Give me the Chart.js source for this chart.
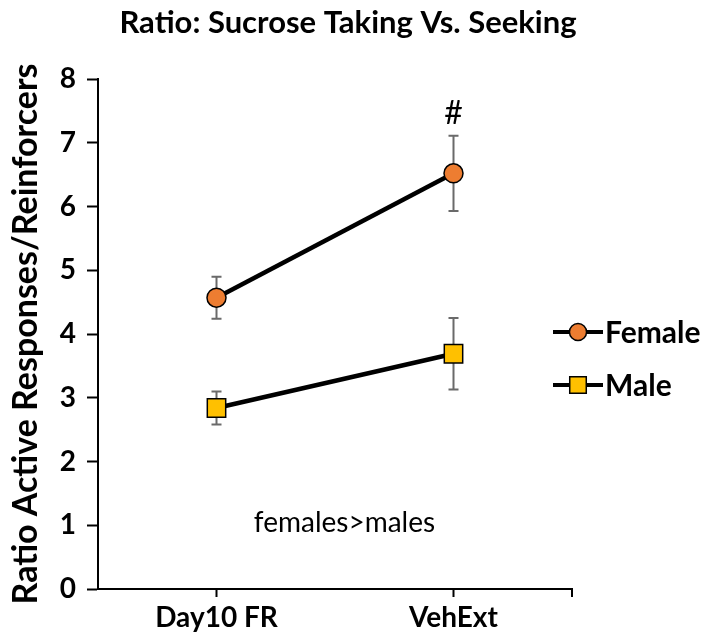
<!DOCTYPE html>
<html>
<head>
<meta charset="utf-8">
<script src="https://cdn.jsdelivr.net/npm/chart.js@4.4.1/dist/chart.umd.min.js"></script>
<style>
  html, body { margin: 0; padding: 0; background: #fff; }
</style>
</head>
<body>
<canvas id="myChart" width="712" height="640"></canvas>
<script>
// Values
const categories = ['Day10 FR', 'VehExt'];
const femaleMean = [4.57, 6.52];
const femaleErr = [0.33, 0.59];
const maleMean = [2.84, 3.69];
const maleErr = [0.26, 0.56];
const yTicks = [0, 1, 2, 3, 4, 5, 6, 7, 8];

const FONT = 'Lato, "Open Sans", sans-serif';
const TITLE = 'Ratio: Sucrose Taking Vs. Seeking';

// Error bars (drawn under the lines and markers)
const errorBars = {
    id: 'errorBars',
    beforeDatasetsDraw(chart) {
        const { ctx, scales: { x, y } } = chart;
        ctx.save();
        ctx.strokeStyle = '#6a6a6a';
        ctx.lineWidth = 2;
        chart.data.datasets.forEach(ds => {
            ds.data.forEach((v, i) => {
                const px = x.getPixelForValue(i);
                const hi = y.getPixelForValue(v + ds.errors[i]);
                const lo = y.getPixelForValue(v - ds.errors[i]);
                ctx.beginPath();
                ctx.moveTo(px, hi); ctx.lineTo(px, lo);
                ctx.moveTo(px - 5, hi); ctx.lineTo(px + 5, hi);
                ctx.moveTo(px - 5, lo); ctx.lineTo(px + 5, lo);
                ctx.stroke();
            });
        });
        ctx.restore();
    }
};

// Text notes placed in data units
const notes = [
    { text: '#', x: 1, y: 7.45, size: 32 },
    { text: 'females>males', x: 0.54, y: 1.04, size: 28 },
];

const extras = {
    id: 'extras',
    afterDraw(chart) {
        const { ctx, chartArea, scales: { x, y } } = chart;
        ctx.save();
        // title, centred like the original figure
        ctx.fillStyle = '#000';
        ctx.textAlign = 'center';
        ctx.textBaseline = 'alphabetic';
        ctx.font = `bold 31px ${FONT}`;
        ctx.fillText(TITLE, 348, 33);

        // closing tick at the right end of the x axis
        ctx.strokeStyle = '#000';
        ctx.lineWidth = 2;
        ctx.beginPath();
        ctx.moveTo(chartArea.right, chartArea.bottom);
        ctx.lineTo(chartArea.right, chartArea.bottom + 8);
        ctx.stroke();

        ctx.textBaseline = 'middle';
        notes.forEach(n => {
            ctx.font = `${n.size}px ${FONT}`;
            ctx.fillText(n.text, x.getPixelForValue(n.x), y.getPixelForValue(n.y));
        });

        // legend on the right
        const lx = 553, ly = 332, gap = 53;
        chart.data.datasets.forEach((ds, i) => {
            const cy = ly + i * gap;
            ctx.strokeStyle = '#000';
            ctx.lineWidth = 4;
            ctx.beginPath();
            ctx.moveTo(lx, cy); ctx.lineTo(lx + 50, cy);
            ctx.stroke();
            ctx.fillStyle = ds.pointBackgroundColor;
            ctx.lineWidth = 1.5;
            Chart.helpers.drawPoint(ctx, {
                pointStyle: ds.pointStyle,
                radius: ds.pointRadius * 0.9,
                rotation: 0,
                borderWidth: 1.5
            }, lx + 25, cy);
            ctx.fillStyle = '#000';
            ctx.textAlign = 'left';
            ctx.font = `bold 30px ${FONT}`;
            ctx.fillText(ds.label, lx + 52, cy + 1);
        });
        ctx.restore();
    }
};

const data = {
    labels: categories,
    datasets: [{
        label: 'Female',
        data: femaleMean,
        errors: femaleErr,
        borderColor: '#000',
        borderWidth: 4.5,
        pointStyle: 'circle',
        pointRadius: 9.5,
        pointBackgroundColor: '#ED7D31',
        pointBorderColor: '#000',
        pointBorderWidth: 1.5,
    }, {
        label: 'Male',
        data: maleMean,
        errors: maleErr,
        borderColor: '#000',
        borderWidth: 4.5,
        pointStyle: 'rect',
        pointRadius: 13,
        pointBackgroundColor: '#FFC000',
        pointBorderColor: '#000',
        pointBorderWidth: 1.5,
    }],
};

const config = {
    type: 'line',
    data: data,
    options: {
        responsive: false,
        animation: false,
        layout: { padding: { top: 79, left: 0, right: 140, bottom: 0 } },
        plugins: {
            legend: { display: false },
            tooltip: { enabled: false },
            title: { display: false },
        },
        scales: {
            x: {
                offset: true,
                afterFit: (scale) => { scale.height = 51; },
                grid: {
                    offset: false,
                    drawOnChartArea: false,
                    tickLength: 8,
                    tickWidth: 2,
                    tickColor: '#000',
                },
                border: { color: '#000', width: 2 },
                ticks: {
                    color: '#000',
                    padding: 4,
                    font: { family: FONT, size: 28, weight: 'bold' },
                },
            },
            y: {
                min: 0,
                max: 8,
                afterFit: (scale) => { scale.width = 98; },
                afterBuildTicks: (scale) => { scale.ticks = yTicks.map(v => ({ value: v })); },
                grid: {
                    drawOnChartArea: false,
                    tickLength: 11,
                    tickWidth: 2,
                    tickColor: '#000',
                },
                border: { color: '#000', width: 2 },
                ticks: {
                    color: '#000',
                    padding: 11,
                    font: { family: FONT, size: 28, weight: 'bold' },
                },
                title: {
                    display: true,
                    text: 'Ratio Active Responses/Reinforcers',
                    color: '#000',
                    padding: { top: 6, bottom: 0 },
                    font: { family: FONT, size: 34, weight: 'bold' },
                },
            },
        },
    },
    plugins: [errorBars, extras],
};

const ctx = document.getElementById('myChart').getContext('2d');
const myChart = new Chart(ctx, config);
</script>
</body>
</html>
